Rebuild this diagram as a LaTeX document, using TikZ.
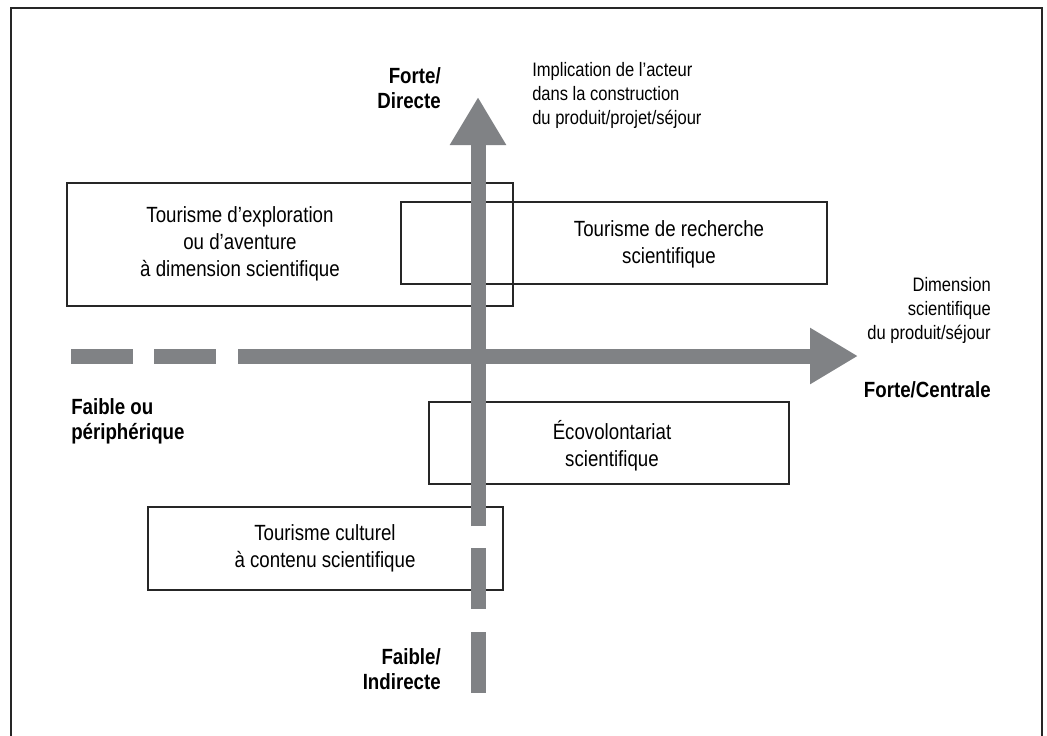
\documentclass[tikz,border=0pt]{standalone}
\usepackage{fontspec}
\setmainfont{Liberation Sans}[FakeStretch=0.85]
\usetikzlibrary{arrows.meta}

\begin{document}
\begin{tikzpicture}[x=0.75pt,y=-0.75pt]
	% --- cadre de la figure (unités en px) ---
	\useasboundingbox (0,0) rectangle (1047,736);
	\definecolor{gris}{RGB}{128,130,133}
	
	% styles
	\tikzset{
		cadre/.style  = {line width=1pt, black!85},
		boite/.style  = {line width=0.9pt, black!85},
		axe/.style    = {line width=11.25pt, gris},
		fleche/.style = {axe, -{Triangle[width=39.75pt,length=36pt]}},
		texte/.style  = {inner sep=0pt, align=center, font=\fontsize{16.5}{20.25}\selectfont},
		petit/.style  = {inner sep=0pt, font=\fontsize{14.6}{18}\selectfont},
		pole/.style   = {inner sep=0pt, font=\bfseries\fontsize{16.5}{18.75}\selectfont},
	}
	
	% macro pour une boîte et son texte
	\newcommand{\Boite}[5]{% #1=nom, #2=coin haut-gauche, #3=coin bas-droit, #4=centre du texte, #5=texte
		\draw[boite] (#2) rectangle (#3);
		\node[texte] (#1) at (#4) {#5};
	}
	
	% cadre ouvert en bas
	\draw[cadre] (11,745) -- (11,8) -- (1042,8) -- (1042,745);
	
	% les quatre types de tourisme
	\Boite{explo}{67,183}{513,306}{240,244}{Tourisme d’exploration\\ou d’aventure\\à dimension scientifique}
	\Boite{recherche}{401,202}{827,284}{669,244.5}{Tourisme de recherche\\scientifique}
	\Boite{ecovol}{429,402}{789,484}{612,446}{Écovolontariat\\scientifique}
	\Boite{culturel}{148,507}{503,590}{325,548.5}{Tourisme culturel\\à contenu scientifique}
	
	% axe horizontal : dimension scientifique
	\coordinate (hdeb) at (238,356);
	\coordinate (hfin) at (858,356);
	\foreach \a/\b in {71/133, 154/216}
		\draw[axe] (\a,356) -- (\b,356);
	\draw[fleche] (hdeb) -- (hfin);
	
	% axe vertical : implication de l'acteur
	\coordinate (vdeb) at (478,526);
	\coordinate (vfin) at (478,97);
	\foreach \a/\b in {548/609, 632/693}
		\draw[axe] (478,\a) -- (478,\b);
	\draw[fleche] (vdeb) -- (vfin);
	
	% étiquettes des axes
	\node[petit, anchor=west, align=left] (implic) at (532,95) {Implication de l’acteur\\dans la construction\\du produit/projet/séjour};
	\node[petit, anchor=east, align=right] (dimension) at (991,310) {Dimension\\scientifique\\du produit/séjour};
	\node[pole, anchor=east, align=right] (fortedir) at (441,88) {Forte/\\Directe};
	\node[pole, anchor=east, align=right] (faibleind) at (441,669) {Faible/\\Indirecte};
	\node[pole, anchor=east] (fortecent) at (991,390) {Forte/Centrale};
	\node[pole, anchor=west, align=left] (faibleper) at (71,421) {Faible ou\\périphérique};
	
\end{tikzpicture}
\end{document}
